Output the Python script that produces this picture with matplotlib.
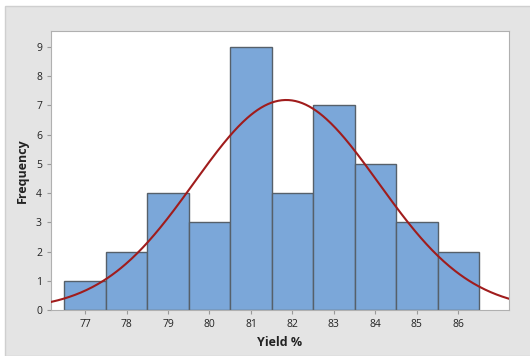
import numpy as np
import matplotlib.pyplot as plt
from matplotlib.patches import Rectangle

# histogram data (bin centres and counts)
centers = [77, 78, 79, 80, 81, 82, 83, 84, 85, 86]
counts = [1, 2, 4, 3, 9, 4, 7, 5, 3, 2]
# fitted normal curve parameters
mean = 81.85
sd = 2.22
n = sum(counts)

plt.rcParams['font.family'] = ['Open Sans', 'DejaVu Sans']

fig = plt.figure(figsize=(5.3, 3.56), dpi=100)
fig.patch.set_facecolor('white')
# gray frame behind the plot area
fig.patches.append(Rectangle((5/530, 0), 1, 1 - 6/356, transform=fig.transFigure,
                             facecolor='#e4e4e4', edgecolor='#cfcfcf', lw=1, zorder=-10))

ax = fig.add_axes([51/530, 1 - 310/356, (509-51)/530, (310-31)/356])
ax.set_zorder(1)
ax.set_facecolor('white')

ax.bar(centers, counts, width=1, color='#7ba7d9', edgecolor='#56606a', linewidth=1, zorder=2)

x = np.linspace(76.18, 87.22, 400)
y = n * 1 / (sd * np.sqrt(2 * np.pi)) * np.exp(-0.5 * ((x - mean) / sd) ** 2)
ax.plot(x, y, color='#a01c1c', lw=1.5, zorder=3)

ax.set_xlim(76.18, 87.22)
ax.set_ylim(0, 9.55)
ax.set_xticks(centers)
ax.set_yticks(range(10))
ax.tick_params(labelsize=7.5, colors='#222222', length=3, width=0.8)
ax.tick_params(axis='both', color='#999999')
for s in ax.spines.values():
    s.set_color('#b0b0b0')
    s.set_linewidth(0.8)

ax.set_xlabel('Yield %', fontsize=9, fontweight='bold', color='#222222', labelpad=4)
ax.set_ylabel('Frequency', fontsize=9, fontweight='bold', color='#222222', labelpad=5)

fig.savefig('out.png', dpi=100)
